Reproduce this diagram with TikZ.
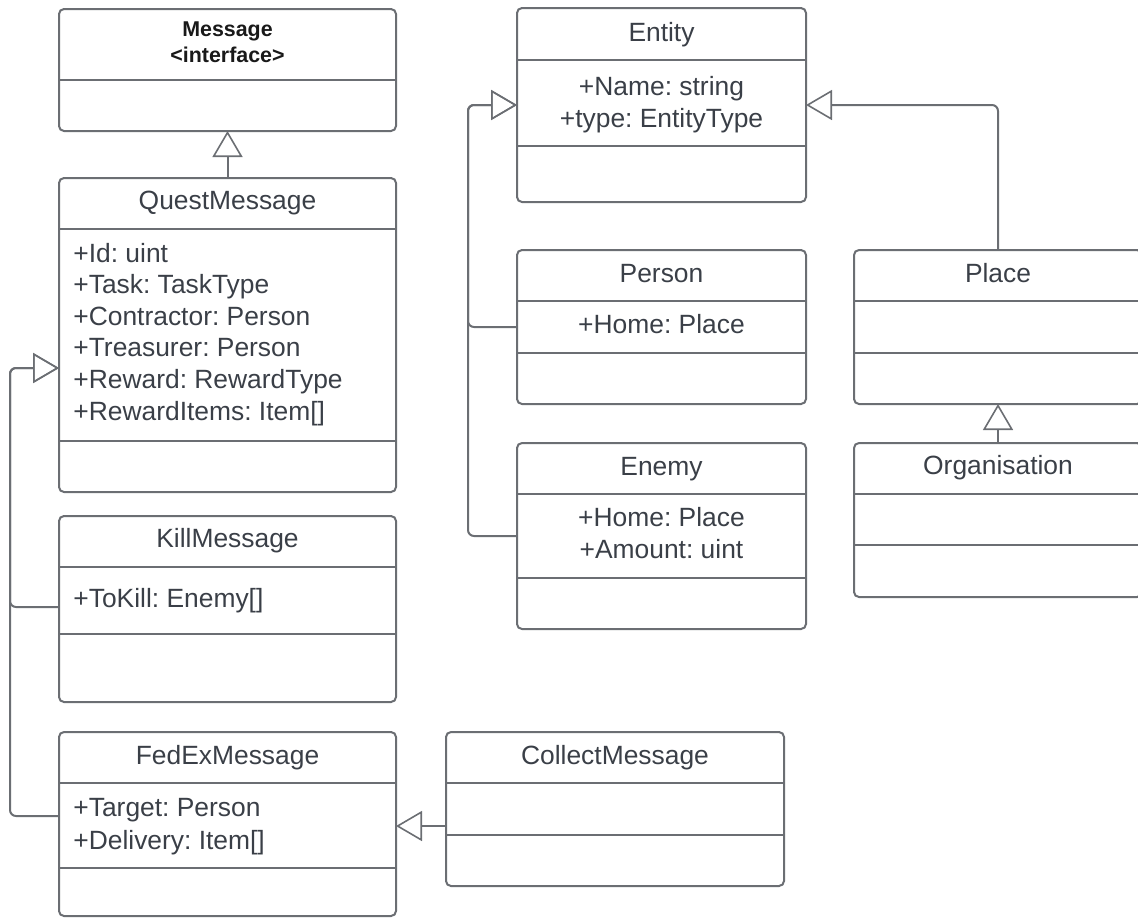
\documentclass[tikz,border=0pt]{standalone}
\usepackage{fontspec}
\setmainfont{Liberation Sans}
\usetikzlibrary{arrows.meta}
\definecolor{ln}{HTML}{6B6E73}
\definecolor{tx}{HTML}{3A3F47}
\frenchspacing
\begin{document}
\begin{tikzpicture}[x=0.5pt,y=-0.5pt,
  cls/.style={draw=ln, line width=1pt, rounded corners=2.5pt, anchor=north west, inner sep=0pt, outer sep=0pt},
  sep/.style={draw=ln, line width=1pt},
  ttl/.style={text=tx, font=\fontsize{13.2}{15.8}\selectfont, inner sep=0pt, anchor=base},
  attr/.style={ttl, anchor=base west},
  inh/.style={draw=ln, line width=1pt, rounded corners=3pt, -{Triangle[open, length=13pt, width=15pt, line width=0.8pt]}},
]
\useasboundingbox (0,0) rectangle (1138,918);

% class boxes
\node[cls, minimum width=168.5pt, minimum height=61pt] (msg) at (59,9) {};
\node[cls, minimum width=168.5pt, minimum height=157pt] (qm) at (59,178) {};
\node[cls, minimum width=168.5pt, minimum height=93pt] (km) at (59,516) {};
\node[cls, minimum width=168.5pt, minimum height=92pt] (fx) at (59,732) {};
\node[cls, minimum width=169pt, minimum height=77pt] (cm) at (446,732) {};
\node[cls, minimum width=144.5pt, minimum height=97pt] (ent) at (517,8) {};
\node[cls, minimum width=144.5pt, minimum height=77pt] (per) at (517,250) {};
\node[cls, minimum width=144.5pt, minimum height=93pt] (ene) at (517,443) {};
\node[cls, minimum width=144pt, minimum height=77pt] (pl) at (854,250) {};
\node[cls, minimum width=144pt, minimum height=77pt] (org) at (854,443) {};

% compartment dividers
\draw[sep] (59,80) -- (396,80);
\draw[sep] (59,229) -- (396,229);
\draw[sep] (59,441) -- (396,441);
\draw[sep] (59,567) -- (396,567);
\draw[sep] (59,634) -- (396,634);
\draw[sep] (59,783) -- (396,783);
\draw[sep] (59,868) -- (396,868);
\draw[sep] (446,783) -- (784,783);
\draw[sep] (446,835) -- (784,835);
\draw[sep] (517,60) -- (806,60);
\draw[sep] (517,146) -- (806,146);
\draw[sep] (517,301) -- (806,301);
\draw[sep] (517,353) -- (806,353);
\draw[sep] (517,494) -- (806,494);
\draw[sep] (517,578) -- (806,578);
\draw[sep] (854,301) -- (1142,301);
\draw[sep] (854,353) -- (1142,353);
\draw[sep] (854,494) -- (1142,494);
\draw[sep] (854,545) -- (1142,545);

% texts
\node[inner sep=0pt, anchor=base, text=black!90, font=\fontsize{10.7}{13}\selectfont\bfseries] (msgt1) at (227.5,36) {Message};
\node[inner sep=0pt, anchor=base, text=black!90, font=\fontsize{10.7}{13}\selectfont\bfseries] (msgt2) at (227.5,62) {<interface>};

\node[ttl] (qmt) at (227.5,209) {QuestMessage};
\foreach \t [count=\i] in {+Id: uint, +Task: TaskType, +Contractor: Person, +Treasurer: Person, +Reward: RewardType, +RewardItems: Item[]}
  \node[attr] (qa\i) at (73,{262+31.6*(\i-1)}) {\t};

\node[ttl] (kmt) at (227.5,547) {KillMessage};
\node[attr] (ka1) at (73,607) {+ToKill: Enemy[]};

\node[ttl] (fxt) at (227.5,764) {FedExMessage};
\node[attr] (fa1) at (73,816) {+Target: Person};
\node[attr] (fa2) at (73,849) {+Delivery: Item[]};

\node[ttl] (cmt) at (615,764) {CollectMessage};

\node[ttl] (entt) at (661.5,41) {Entity};
\node[ttl] (ea1) at (661.5,95) {+Name: string};
\node[ttl] (ea2) at (661.5,127) {+type: EntityType};

\node[ttl] (pert) at (661.5,282) {Person};
\node[ttl] (pa1) at (661.5,333) {+Home: Place};

\node[ttl] (enet) at (661.5,475) {Enemy};
\node[ttl] (na1) at (661.5,526) {+Home: Place};
\node[ttl] (na2) at (661.5,558) {+Amount: uint};

\node[ttl] (plt) at (998,282) {Place};
\node[ttl] (orgt) at (998,474) {Organisation};

% inheritance connectors
\draw[inh] (qm.north) -- (msg.south);
\draw[inh] ([yshift=-45.5pt]km.north west) -- ++(-49,0) |- ([yshift=-95pt]qm.north west);
\draw[inh] ([yshift=-42pt]fx.north west) -- ++(-49,0) |- ([yshift=-95pt]qm.north west);
\draw[inh] ([yshift=-47pt]cm.north west) -- ([yshift=-47pt]fx.north east);
\draw[inh] ([yshift=-38.5pt]per.north west) -- ++(-49,0) |- ([yshift=-48.5pt]ent.north west);
\draw[inh] ([yshift=-46.5pt]ene.north west) -- ++(-49,0) |- ([yshift=-48.5pt]ent.north west);
\draw[inh] (pl.north) |- ([yshift=-48.5pt]ent.north east);
\draw[inh] (org.north) -- (pl.south);
\end{tikzpicture}
\end{document}
